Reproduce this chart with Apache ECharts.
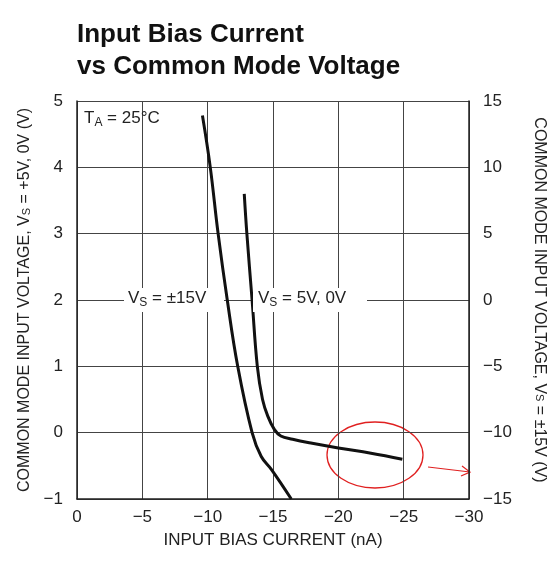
<!DOCTYPE html>
<html><head><meta charset="utf-8">
<script src="https://cdn.jsdelivr.net/npm/echarts@6/dist/echarts.min.js"></script>
<style>html,body{margin:0;padding:0;background:#fff}#c{width:555px;height:577px}</style>
</head><body><div id="c"></div>
<script>
const xTicks = [0,-5,-10,-15,-20,-25,-30];
const vs5X = [-12.8,-13.0,-13.4,-13.8,-14.2,-14.6,-15.1,-15.6,-16.5,-18,-20,-22.5,-24.9];
const vs5Y = [3.6,3.0,2.0,1.0,0.5,0.25,0.05,-0.05,-0.1,-0.16,-0.23,-0.31,-0.4];
const vs15X = [-9.6,-10.2,-10.8,-11.5,-12.3,-13.4,-14.1,-14.9,-16.4];
const vs15Y = [13.9,10,5,0,-5,-10,-11.8,-12.8,-15];
const F = '"Liberation Sans Narrow", sans-serif';
const fmt = v => String(v).replace('-', '\u2212');
const chart = echarts.init(document.getElementById('c'));
chart.setOption({
  animation:false,
  title:{text:'Input Bias Current\nvs Common Mode Voltage',left:72,top:14,
    textStyle:{fontFamily:'Liberation Sans Narrow, sans-serif',fontWeight:'bold',fontSize:26,lineHeight:32,color:'#111'}},
  grid:{left:77,right:85,top:101,bottom:78},
  xAxis:{type:'value',min:-30,max:0,interval:5,inverse:true,
    name:'INPUT BIAS CURRENT (nA)',nameLocation:'middle',nameGap:33,
    nameTextStyle:{fontSize:17,color:'#222',fontFamily:F},
    axisLine:{onZero:false,lineStyle:{color:'#222',width:1.5}},axisTick:{show:false},
    axisLabel:{fontSize:17,color:'#222',margin:10,fontFamily:F,formatter:fmt},
    splitLine:{lineStyle:{color:'#444',width:1}}},
  yAxis:[
    {type:'value',min:-1,max:5,interval:1,position:'left',
     name:'COMMON MODE INPUT VOLTAGE, V{s|S} = +5V, 0V (V)',nameLocation:'middle',nameGap:44,
     nameTextStyle:{fontSize:16,color:'#222',fontFamily:F,rich:{s:{fontSize:11,fontFamily:F,verticalAlign:'bottom'}}},
     axisLine:{show:true,onZero:false,lineStyle:{color:'#222',width:1.5}},axisTick:{show:false},
     axisLabel:{fontSize:17,color:'#222',margin:14,fontFamily:F,formatter:fmt},
     splitLine:{lineStyle:{color:'#444',width:1}}},
    {type:'value',min:-15,max:15,interval:5,position:'right',
     name:'COMMON MODE INPUT VOLTAGE, V{s|S} = ±15V (V)',nameLocation:'middle',nameGap:62,nameRotate:-90,
     nameTextStyle:{fontSize:16,color:'#222',fontFamily:F,rich:{s:{fontSize:11,fontFamily:F}}},
     axisLine:{show:true,onZero:false,lineStyle:{color:'#222',width:1.5}},axisTick:{show:false},
     axisLabel:{fontSize:17,color:'#222',margin:14,fontFamily:F,formatter:fmt},
     splitLine:{show:false}}
  ],
  series:[
    {type:'line',yAxisIndex:0,data:vs5X.map((x,i)=>[x,vs5Y[i]]),smooth:0.4,symbol:'none',lineStyle:{color:'#111',width:3}},
    {type:'line',yAxisIndex:1,data:vs15X.map((x,i)=>[x,vs15Y[i]]),smooth:0.4,symbol:'none',lineStyle:{color:'#111',width:3}}
  ],
  graphic:[
    {type:'rect',left:124,top:288,shape:{width:100,height:24},style:{fill:'#fff'},z:10},
    {type:'rect',left:253,top:288,shape:{width:114,height:24},style:{fill:'#fff'},z:10},
    {type:'text',left:84,top:110,z:11,style:{text:'T{s|A} = 25°C',fill:'#222',font:'17px '+F,
      rich:{s:{fontSize:12,fontFamily:F,padding:[8,0,0,0]}}}},
    {type:'text',left:128,top:290,z:11,style:{text:'V{s|S} = ±15V',fill:'#222',font:'17px '+F,
      rich:{s:{fontSize:12,fontFamily:F,padding:[8,0,0,0]}}}},
    {type:'text',left:258,top:290,z:11,style:{text:'V{s|S} = 5V, 0V',fill:'#222',font:'17px '+F,
      rich:{s:{fontSize:12,fontFamily:F,padding:[8,0,0,0]}}}},
    {type:'ellipse',shape:{cx:375,cy:455,rx:48,ry:33},style:{fill:'none',stroke:'#e02020',lineWidth:1.3}},
    {type:'polyline',shape:{points:[[428,467],[470,472]]},style:{stroke:'#e02020',lineWidth:1.2}},
    {type:'polyline',shape:{points:[[462,466],[470,472],[461,476]]},style:{fill:'none',stroke:'#e02020',lineWidth:1.2}}
  ]
});
</script></body></html>
